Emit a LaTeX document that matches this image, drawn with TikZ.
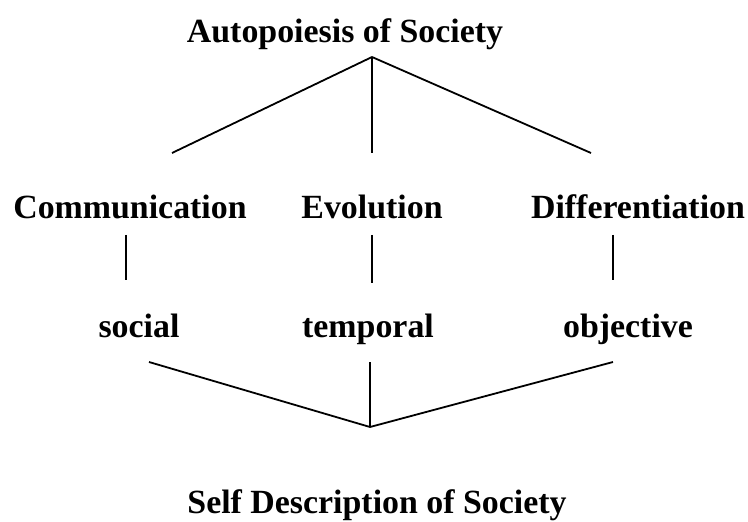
\documentclass[tikz,border=0pt]{standalone}
\usepackage{fontspec}
\setmainfont{Liberation Serif}
\usepackage{tikz}

\begin{document}
\begin{tikzpicture}[
    x=1bp, y=-1bp,
    term/.style={font=\bfseries\fontsize{34}{40}\selectfont,
                 inner sep=0pt, anchor=base},
    fan/.style={line width=1.8bp},
    stem/.style={line width=1.4bp},
]
  \useasboundingbox (0,0) rectangle (748,522);

  \node[term] (auto) at (345,43)  {Autopoiesis of Society};
  \node[term] (comm) at (130,219) {Communication};
  \node[term] (evol) at (372,219) {Evolution};
  \node[term] (diff) at (638,219) {Differentiation};
  \node[term] (soc)  at (139,337) {social};
  \node[term] (temp) at (368,337) {temporal};
  \node[term] (obj)  at (628,337) {objective};
  \node[term] (self) at (377,513) {Self Description of Society};

  % branch points and line ends
  \coordinate (apex)   at (372,57);
  \coordinate (commUp) at (172,153);
  \coordinate (evolUp) at (372,153);
  \coordinate (diffUp) at (591,153);
  \coordinate (commA)  at (126,235);
  \coordinate (commB)  at (126,280);
  \coordinate (evolA)  at (372,235);
  \coordinate (evolB)  at (372,283);
  \coordinate (diffA)  at (613,235);
  \coordinate (diffB)  at (613,280);
  \coordinate (socDn)  at (149,362);
  \coordinate (tempDn) at (370,362);
  \coordinate (objDn)  at (613,362);
  \coordinate (base)   at (370,427);

  \draw[fan]  (apex) -- (commUp);
  \draw[stem] (apex) -- (evolUp);
  \draw[fan]  (apex) -- (diffUp);

  \draw[stem] (commA) -- (commB);
  \draw[stem] (evolA) -- (evolB);
  \draw[stem] (diffA) -- (diffB);

  \draw[fan]  (socDn)  -- (base);
  \draw[stem] (tempDn) -- (base);
  \draw[fan]  (objDn)  -- (base);
\end{tikzpicture}
\end{document}
